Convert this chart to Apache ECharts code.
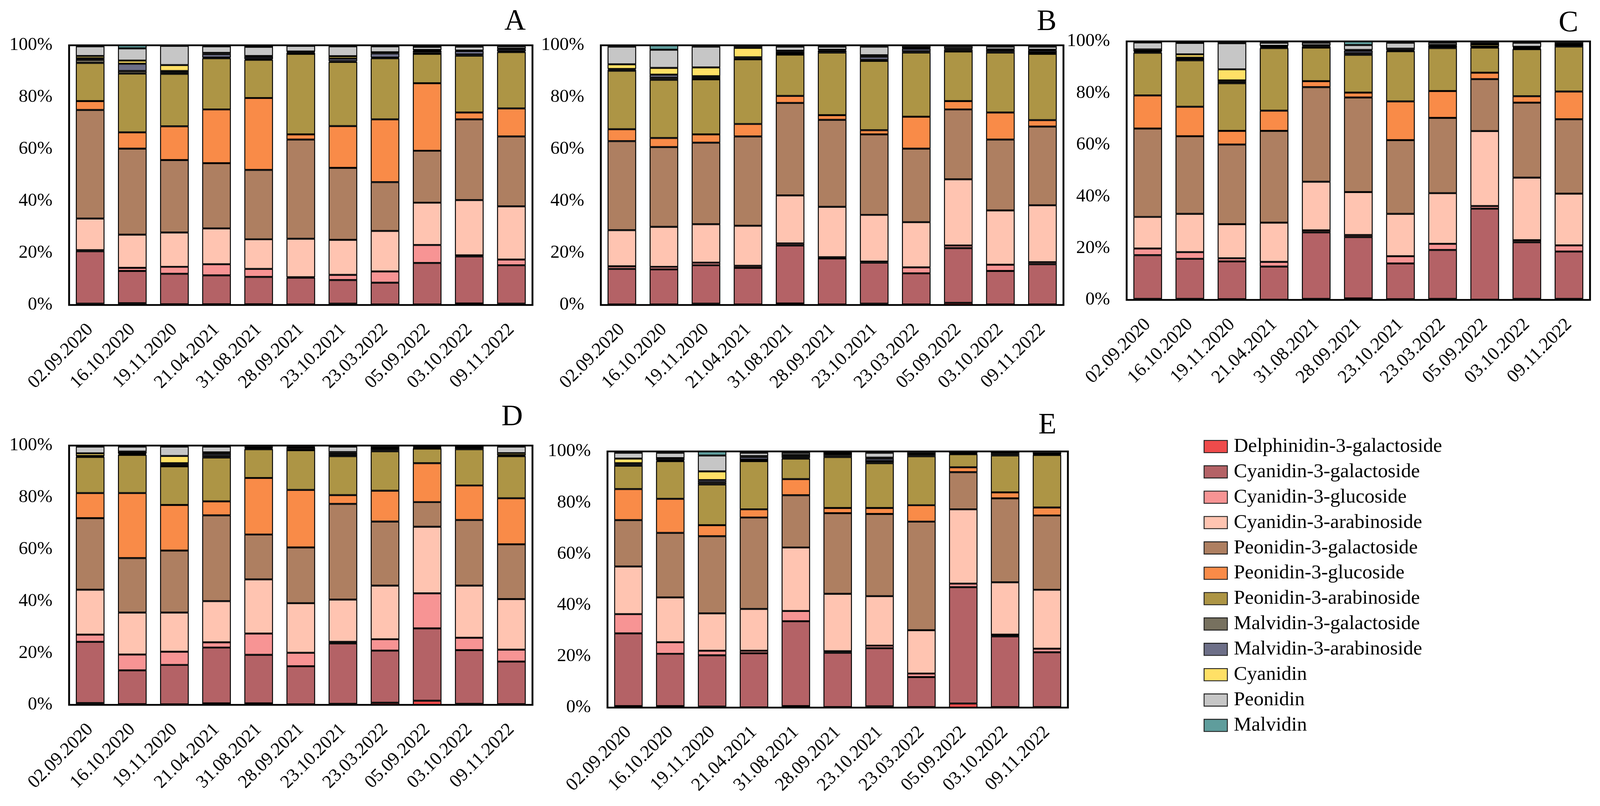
<!DOCTYPE html>
<html>
<head>
<meta charset="utf-8">
<script src="https://cdn.jsdelivr.net/npm/echarts@6/dist/echarts.min.js"></script>
<style>
html,body{margin:0;padding:0;background:#fff;overflow:hidden;}
#chart{width:100vw;height:100vh;}
</style>
</head>
<body>
<div id="chart"></div>
<script>
// ---- categories / series ----
const categories = ['02.09.2020','16.10.2020','19.11.2020','21.04.2021','31.08.2021','28.09.2021','23.10.2021','23.03.2022','05.09.2022','03.10.2022','09.11.2022'];
const seriesNames = ['Delphinidin-3-galactoside','Cyanidin-3-galactoside','Cyanidin-3-glucoside','Cyanidin-3-arabinoside','Peonidin-3-galactoside','Peonidin-3-glucoside','Peonidin-3-arabinoside','Malvidin-3-galactoside','Malvidin-3-arabinoside','Cyanidin','Peonidin','Malvidin'];
const seriesColors = ['#EF4B4B','#B46266','#F79494','#FFC4B1','#AE7F61','#F98B48','#AD9545','#77715F','#6D6F88','#FFE066','#C6C6C6','#5F9D9C'];
const panelLabels = ['A','B','C','D','E'];
const yTicks = [0,20,40,60,80,100];

// ---- Panel A (% share) ----
const A_Dp3Gal = [0.5,0.7,0.3,0.3,0.3,0.2,0.5,0.2,0.2,0.6,0.5];
const A_Cy3Gal = [20.2,12.4,11.7,11.1,10.5,10.3,9.1,8.4,16.0,18.1,14.8];
const A_Cy3Glu = [0.4,1.2,2.7,4.3,3.1,0.2,2.0,4.3,6.9,0.4,2.2];
const A_Cy3Ara = [12.2,12.8,13.2,13.8,11.4,14.8,13.5,15.6,16.3,21.3,20.5];
const A_Pn3Gal = [41.8,33.1,27.9,25.1,26.7,38.2,27.7,18.8,20.0,31.1,26.9];
const A_Pn3Glu = [3.4,6.3,13.0,20.7,27.7,2.0,16.1,24.2,26.0,2.6,10.8];
const A_Pn3Ara = [14.7,22.6,20.2,19.7,14.7,31.0,24.7,23.5,11.3,21.9,21.7];
const A_Mv3Gal = [1.2,1.0,0.5,0.3,0.3,0.4,0.3,0.3,0.5,0.5,0.3];
const A_Mv3Ara = [0.6,2.8,0.6,1.3,0.8,0.3,1.0,1.6,0.7,1.3,0.8];
const A_Cy = [0.9,1.2,2.3,0.5,0.4,0.2,0.9,0.4,0.3,0.2,0.2];
const A_Pn = [3.7,4.7,7.4,2.5,3.5,2.2,3.8,2.3,1.2,1.5,0.9];
const A_Mv = [0.4,1.2,0.2,0.4,0.6,0.2,0.4,0.4,0.6,0.5,0.4];

// ---- Panel B ----
const B_Dp3Gal = [0.2,0.2,0.5,0.2,0.6,0.2,0.5,0.2,0.8,0.2,0.2];
const B_Cy3Gal = [13.7,13.5,14.8,14.1,22.3,17.7,15.8,12.0,21.1,12.9,15.5];
const B_Cy3Glu = [1.0,1.0,1.0,0.8,0.8,0.5,0.4,2.3,1.0,2.4,0.8];
const B_Cy3Ara = [13.9,15.4,14.8,15.4,18.5,19.4,18.0,17.4,25.5,20.9,21.9];
const B_Pn3Gal = [34.3,30.7,31.4,34.4,35.6,33.5,31.0,28.3,26.9,27.3,30.3];
const B_Pn3Glu = [4.6,3.5,3.2,4.8,2.7,1.8,1.6,12.3,3.2,10.4,2.5];
const B_Pn3Ara = [22.5,22.4,21.2,24.9,15.9,24.1,26.7,24.7,19.1,23.1,25.5];
const B_Mv3Gal = [0.4,0.8,0.6,0.4,0.6,0.4,0.4,0.5,0.4,0.5,0.6];
const B_Mv3Ara = [0.3,1.2,0.6,0.4,0.5,0.4,1.2,1.0,0.4,0.5,0.8];
const B_Cy = [1.8,2.6,3.4,3.6,0.4,0.3,0.6,0.2,0.3,0.2,0.2];
const B_Pn = [6.8,7.0,8.0,0.5,1.6,1.2,3.3,0.6,0.8,1.1,1.2];
const B_Mv = [0.5,1.7,0.5,0.5,0.5,0.5,0.5,0.5,0.5,0.5,0.5];

// ---- Panel C ----
const C_Dp3Gal = [0.4,0.4,0.3,0.1,0.4,0.6,0.3,0.4,0.1,0.4,0.4];
const C_Cy3Gal = [16.9,15.5,14.6,12.8,25.7,23.7,13.8,18.9,35.2,21.9,18.3];
const C_Cy3Glu = [2.6,2.6,1.2,1.8,0.8,0.8,2.8,2.4,1.0,0.8,2.4];
const C_Cy3Ara = [12.2,14.8,13.2,15.2,18.8,16.6,16.4,19.6,29.0,24.2,20.0];
const C_Pn3Gal = [34.2,30.0,30.8,35.5,36.6,36.6,28.5,29.1,20.1,29.0,28.8];
const C_Pn3Glu = [12.8,11.4,5.3,7.8,2.3,1.9,15.0,10.4,2.5,2.5,10.7];
const C_Pn3Ara = [16.5,18.0,18.4,24.2,13.0,14.6,19.4,16.6,9.7,18.2,17.4];
const C_Mv3Gal = [0.3,0.5,0.6,0.3,0.4,0.6,0.2,0.5,0.2,0.3,0.5];
const C_Mv3Ara = [0.3,0.5,0.5,0.3,0.3,1.0,0.3,0.5,0.2,0.3,0.5];
const C_Cy = [0.7,1.3,4.3,0.3,0.2,0.3,0.5,0.2,0.8,0.3,0.1];
const C_Pn = [2.7,4.4,10.1,1.2,1.0,1.9,2.3,0.9,0.7,1.6,0.4];
const C_Mv = [0.4,0.6,0.7,0.5,0.5,1.4,0.5,0.5,0.5,0.5,0.5];

// ---- Panel D ----
const D_Dp3Gal = [0.7,0.3,0.2,0.6,0.6,0.2,0.4,0.8,1.6,0.4,0.3];
const D_Cy3Gal = [23.6,13.0,15.2,21.5,18.7,14.7,23.3,20.1,27.9,20.7,16.4];
const D_Cy3Glu = [2.8,6.1,5.1,2.0,8.2,5.2,0.6,4.4,13.5,4.8,4.6];
const D_Cy3Ara = [17.3,16.2,15.1,15.9,20.9,19.1,16.3,20.7,25.7,20.1,19.5];
const D_Pn3Gal = [27.6,21.0,23.9,33.1,17.3,21.5,36.9,24.7,9.5,25.3,21.1];
const D_Pn3Glu = [9.7,25.1,17.6,5.4,21.8,22.2,3.4,11.9,15.0,13.3,17.8];
const D_Pn3Ara = [13.9,14.7,14.9,16.9,11.1,15.3,15.0,15.2,5.6,14.0,16.2];
const D_Mv3Gal = [0.2,0.3,0.6,0.6,0.3,0.5,0.6,0.5,0.2,0.5,0.2];
const D_Mv3Ara = [0.2,0.3,0.6,0.8,0.3,0.5,0.6,0.6,0.2,0.5,0.2];
const D_Cy = [1.0,0.7,2.8,0.6,0.1,0.1,0.4,0.1,0.3,0.05,0.8];
const D_Pn = [2.6,1.9,3.6,2.2,0.3,0.3,2.1,0.6,0.2,0.15,2.5];
const D_Mv = [0.4,0.4,0.4,0.4,0.4,0.4,0.4,0.4,0.3,0.2,0.4];

// ---- Panel E ----
const E_Dp3Gal = [0.6,0.6,0.4,0.1,0.6,0.2,0.5,0.2,1.6,0.2,0.2];
const E_Cy3Gal = [28.4,20.4,20.0,21.1,33.1,21.2,22.7,11.7,45.4,27.6,21.4];
const E_Cy3Glu = [7.5,4.5,1.8,1.0,4.0,0.6,1.0,1.4,1.4,0.7,1.4];
const E_Cy3Ara = [18.6,17.5,14.6,16.3,24.8,22.4,19.3,16.9,29.0,20.4,23.0];
const E_Pn3Gal = [18.1,25.2,30.1,35.7,20.4,31.5,32.1,42.4,14.5,32.8,29.0];
const E_Pn3Glu = [12.1,13.3,4.3,3.2,6.3,2.0,2.3,6.4,1.9,2.3,3.1];
const E_Pn3Ara = [9.1,14.7,15.9,18.8,8.0,19.9,17.5,19.1,5.1,14.4,20.5];
const E_Mv3Gal = [0.5,0.3,0.8,0.6,0.3,0.8,0.8,0.4,0.2,0.6,0.2];
const E_Mv3Ara = [0.5,0.5,0.9,1.0,0.4,0.7,1.0,0.4,0.2,0.6,0.2];
const E_Cy = [1.8,0.4,3.4,0.4,0.7,0.05,0.4,0.1,0.1,0.05,0.1];
const E_Pn = [2.3,2.1,6.2,1.3,0.9,0.15,1.9,0.5,0.1,0.05,0.5];
const E_Mv = [0.5,0.5,1.6,0.5,0.5,0.5,0.5,0.5,0.5,0.3,0.4];

const panelData = [
  [A_Dp3Gal,A_Cy3Gal,A_Cy3Glu,A_Cy3Ara,A_Pn3Gal,A_Pn3Glu,A_Pn3Ara,A_Mv3Gal,A_Mv3Ara,A_Cy,A_Pn,A_Mv],
  [B_Dp3Gal,B_Cy3Gal,B_Cy3Glu,B_Cy3Ara,B_Pn3Gal,B_Pn3Glu,B_Pn3Ara,B_Mv3Gal,B_Mv3Ara,B_Cy,B_Pn,B_Mv],
  [C_Dp3Gal,C_Cy3Gal,C_Cy3Glu,C_Cy3Ara,C_Pn3Gal,C_Pn3Glu,C_Pn3Ara,C_Mv3Gal,C_Mv3Ara,C_Cy,C_Pn,C_Mv],
  [D_Dp3Gal,D_Cy3Gal,D_Cy3Glu,D_Cy3Ara,D_Pn3Gal,D_Pn3Glu,D_Pn3Ara,D_Mv3Gal,D_Mv3Ara,D_Cy,D_Pn,D_Mv],
  [E_Dp3Gal,E_Cy3Gal,E_Cy3Glu,E_Cy3Ara,E_Pn3Gal,E_Pn3Glu,E_Pn3Ara,E_Mv3Gal,E_Mv3Ara,E_Cy,E_Pn,E_Mv]
];

// ---- layout (designed for 4330 x 2064, scaled to the real viewport) ----
const el = document.getElementById('chart');
const kx = (el.clientWidth || window.innerWidth) / 4330;
const ky = (el.clientHeight || window.innerHeight) / 2064;
const k = Math.min(kx, ky);
const X = v => v * kx, Y = v => v * ky, S = v => v * k;

const FONT = 'Liberation Serif';
const gridBoxes = [
  [187, 116, 1254, 665],
  [1626, 116, 1252, 665],
  [3049, 106, 1254, 662],
  [187, 1141, 1254, 664],
  [1644, 1156, 1246, 656]
];
const letterPos = [[1365,18],[2806,19],[4218,22],[1357,1031],[2810,1052]];
const legendFont = 54;

const option = {
  animation:false,
  backgroundColor:'#fff',
  grid: gridBoxes.map(b => ({show:true, borderColor:'#000', borderWidth:S(5), backgroundColor:'transparent',
                             left:X(b[0]), top:Y(b[1]), width:X(b[2]), height:Y(b[3])})),
  xAxis: gridBoxes.map((b,i) => ({
    type:'category', gridIndex:i, data:categories,
    axisLine:{show:false}, axisTick:{show:false},
    axisLabel:{interval:0, rotate:45, margin:Y(56), fontFamily:FONT, fontSize:S(50), color:'#000'}
  })),
  yAxis: gridBoxes.map((b,i) => ({
    type:'value', gridIndex:i, min:0, max:100, interval:20,
    axisLine:{show:false}, axisTick:{show:false}, splitLine:{show:false},
    axisLabel:{formatter:v => yTicks.includes(v) ? v + '%' : '', margin:X(45), fontFamily:FONT, fontSize:S(50), color:'#000'}
  })),
  legend:{
    orient:'vertical', left:X(3252), top:Y(1138.5) - S(legendFont)/2,
    itemWidth:S(63), itemHeight:S(33), itemGap:Y(65) - S(legendFont),
    icon:'rect',
    data:seriesNames,
    itemStyle:{borderColor:'#222', borderWidth:S(2.5)},
    textStyle:{fontFamily:FONT, fontSize:S(legendFont), color:'#000', padding:[0,0,0,S(12)]}
  },
  graphic: panelLabels.map((t,i) => ({
    type:'text', left:X(letterPos[i][0]), top:Y(letterPos[i][1]),
    style:{text:t, font:S(80) + 'px "' + FONT + '"', fill:'#000'}
  })),
  series:[]
};

panelData.forEach((arrs,p) => {
  arrs.forEach((arr,s) => {
    option.series.push({
      name:seriesNames[s], type:'bar', stack:'panel'+p,
      xAxisIndex:p, yAxisIndex:p,
      barCategoryGap:'32%',
      data:arr,
      itemStyle:{color:seriesColors[s], borderColor:'#000', borderWidth:S(2.5)},
      emphasis:{disabled:true}
    });
  });
});

const chart = echarts.init(el);
chart.setOption(option);
</script>
</body>
</html>
